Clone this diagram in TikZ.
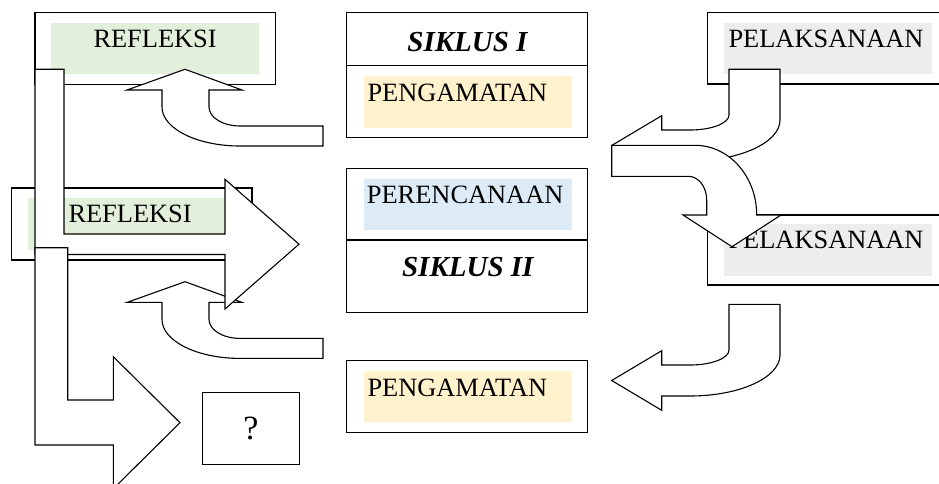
\documentclass[tikz,border=0pt]{standalone}
\usepackage{fontspec}
\setmainfont{Liberation Serif}
\definecolor{lgreen}{HTML}{E2EFDA}
\definecolor{lyellow}{HTML}{FFF2CC}
\definecolor{lblue}{HTML}{DDEBF7}
\definecolor{lgray}{HTML}{EDEDED}
\begin{document}
\begin{tikzpicture}[x=1pt,y=-1pt,
  box/.style={draw, line width=1.3pt, inner sep=0pt, outer sep=0pt, anchor=north west},
  fillbox/.style={inner sep=0pt, outer sep=0pt, anchor=north west},
  lbl/.style={inner sep=0pt, anchor=base west, font=\fontsize{26.4}{30}\selectfont},
  ttl/.style={inner sep=0pt, anchor=base, font=\fontsize{29}{33}\selectfont\bfseries\itshape},
  blockarrow/.style={draw, fill=white, line width=1.1pt, line join=miter},
  curvedup/.pic={\draw[blockarrow] (185,69.3) -- (242,90) -- (209,90) -- (209,107)
      .. controls (209,117.5) and (222.9,126) .. (240,126) -- (323,126) -- (323,146) -- (240,146)
      .. controls (196.9,146) and (162,128.5) .. (162,107) -- (162,90) -- (127,90) -- cycle;},
  curvedleft/.pic={\draw[blockarrow] (611.7,145.5) -- (661.7,115.7) -- (661.7,130) -- (690,130)
      .. controls (711.5,130) and (729,123.3) .. (729,115) -- (729,69.3) -- (780,69.3) -- (780,120)
      .. controls (780,142.6) and (739.7,161) .. (690,161) -- (661.7,161) -- (661.7,175.3) -- cycle;}
]
\useasboundingbox (0,0) rectangle (939,484);
\clip (0,0) rectangle (939,484);

% REFLEKSI (top)
\node[box, minimum width=240.7pt, minimum height=71.6pt] (r1) at (35,12.7) {};
\node[fillbox, fill=lgreen, minimum width=208pt, minimum height=51pt] (r1f) at (51,23) {};
\node[lbl] (r1t) at (93.3,47.7) {REFLEKSI};

% SIKLUS I
\node[box, minimum width=240.6pt, minimum height=53pt] (s1a) at (346.7,12.7) {};
\node[box, minimum width=240.6pt, minimum height=71.6pt] (s1b) at (346.7,65.7) {};
\node[fillbox, fill=lyellow, minimum width=207.7pt, minimum height=51.7pt] (s1f) at (364,76) {};
\node[ttl] (s1t) at (467.5,51.7) {SIKLUS I};
\node[lbl] (pg1t) at (367.3,101.7) {PENGAMATAN};

% PELAKSANAAN (top)
\node[box, minimum width=240pt, minimum height=71.3pt] (p1) at (707.3,12.7) {};
\node[fillbox, fill=lgray, minimum width=207.7pt, minimum height=51pt] (p1f) at (724,23.3) {};
\node[lbl] (p1t) at (728.3,47.7) {PELAKSANAAN};

% REFLEKSI (middle)
\node[box, minimum width=240.3pt, minimum height=72pt] (r2) at (11.7,188) {};
\node[fillbox, fill=lgreen, minimum width=208.3pt, minimum height=51.7pt] (r2f) at (27.7,198.3) {};
\node[lbl] (r2t) at (68.3,222.7) {REFLEKSI};

% SIKLUS II
\node[box, minimum width=240.6pt, minimum height=71.7pt] (s2a) at (346.7,168.3) {};
\node[box, minimum width=240.6pt, minimum height=72.3pt] (s2b) at (346.7,240) {};
\node[fillbox, fill=lblue, minimum width=207.7pt, minimum height=51pt] (s2f) at (364,179) {};
\node[lbl] (prt) at (366.7,203.3) {PERENCANAAN};
\node[ttl] (s2t) at (467.8,276.7) {SIKLUS II};

% PELAKSANAAN (middle)
\node[box, minimum width=240pt, minimum height=70pt] (p2) at (707.3,215) {};
\node[fillbox, fill=lgray, minimum width=207.7pt, minimum height=51.7pt] (p2f) at (724,224) {};
\node[lbl] (p2t) at (728.3,248.3) {PELAKSANAAN};

% PENGAMATAN (bottom)
\node[box, minimum width=240.6pt, minimum height=72pt] (pg) at (346.7,360.7) {};
\node[fillbox, fill=lyellow, minimum width=207.7pt, minimum height=50.7pt] (pgf) at (364,371) {};
\node[lbl] (pg2t) at (367.3,396.7) {PENGAMATAN};

% ? box
\node[box, minimum width=96.6pt, minimum height=71.6pt] (q) at (202.7,392.7) {};
\node[inner sep=0pt, anchor=base, font=\fontsize{34}{38}\selectfont] (qt) at (251,439.3) {?};

% block arrows, left side
\pic at (0,0) {curvedup};
\pic at (0,212.4) {curvedup};
\draw[blockarrow] (35,69.3) -- (64,69.3) -- (64,234) -- (225,234) -- (225,179.3) -- (299,244.2)
  -- (225,309) -- (225,254.5) -- (35,254.5) -- cycle;
\draw[blockarrow] (35,247.7) -- (67.7,247.7) -- (67.7,400) -- (113.3,400) -- (113.3,356.7)
  -- (180,422.7) -- (113.3,488.7) -- (113.3,445) -- (35,445) -- cycle;

% block arrows, right side
\pic at (0,0) {curvedleft};
\draw[blockarrow] (611.7,145.3) -- (695,145.3) .. controls (729.1,145.3) and (756.7,176.5) .. (756.7,215)
  -- (781,215) -- (732,246.7) -- (683,215) -- (706.7,215) -- (706.7,200)
  .. controls (706.7,186.9) and (698.5,176.3) .. (688.3,176.3) -- (611.7,176.3) -- cycle;
\pic at (0,235) {curvedleft};
\end{tikzpicture}
\end{document}
